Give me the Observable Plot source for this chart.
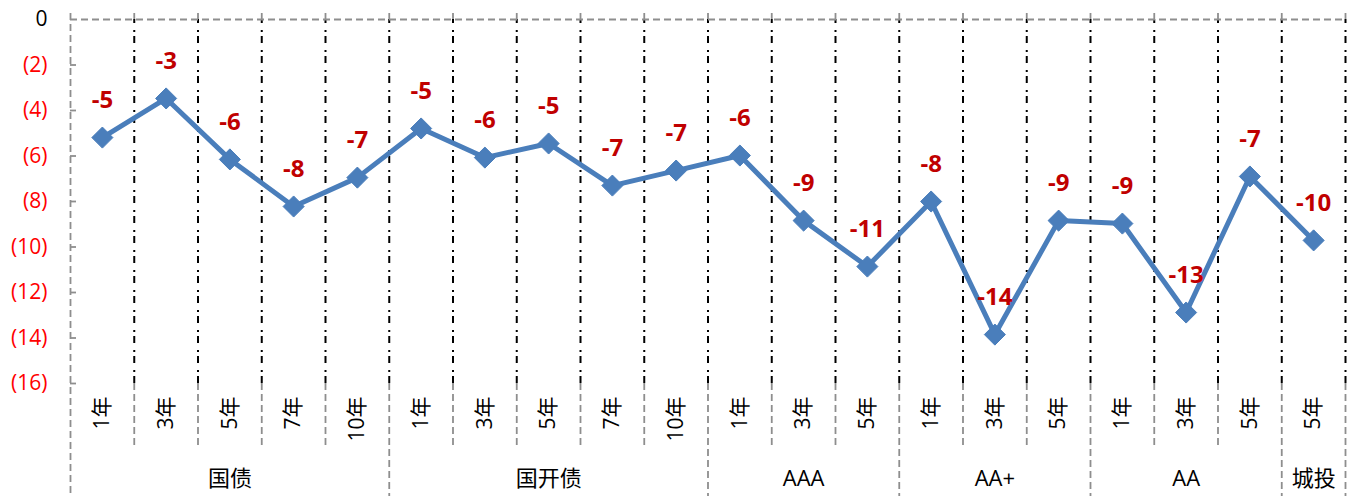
<!DOCTYPE html>
<html>
<head>
<meta charset="utf-8">
<script src="https://cdn.jsdelivr.net/npm/d3@7"></script>
<script src="https://cdn.jsdelivr.net/npm/@observablehq/plot@0.6"></script>
<style>
  html, body { margin: 0; padding: 0; background: #fff; }
</style>
</head>
<body>
<div id="chart"></div>
<script>
// ---- data ----
const groups = ["国债", "国开债", "AAA", "AA+", "AA", "城投"];
const groupTerms = [
  ["1年", "3年", "5年", "7年", "10年"],
  ["1年", "3年", "5年", "7年", "10年"],
  ["1年", "3年", "5年"],
  ["1年", "3年", "5年"],
  ["1年", "3年", "5年"],
  ["5年"]
];
const values = [-5.19, -3.47, -6.15, -8.22, -6.95,
                -4.79, -6.07, -5.45, -7.30, -6.64,
                -5.98, -8.84, -10.86,
                -8.00, -13.85, -8.84,
                -8.97, -12.88, -6.90,
                -9.71];
const yTicks = [0, -2, -4, -6, -8, -10, -12, -14, -16];

// ---- build table ----
const rows = [];
const groupSpans = [];
let idx = 0;
groups.forEach((g, gi) => {
  const start = idx;
  groupTerms[gi].forEach(t => {
    rows.push({ group: g, term: t, i: idx, x: idx + 0.5, value: values[idx] });
    idx++;
  });
  groupSpans.push({ group: g, start, end: idx, mid: (start + idx) / 2 });
});
const n = rows.length;
const groupBounds = [0, ...groupSpans.map(s => s.end)];
const allBounds = d3.range(0, n + 1);
const innerBounds = allBounds.filter(b => !groupBounds.includes(b));

// ---- layout ----
const W = 1358, H = 496;
const mTop = 19, mBottom = 113, mLeft = 70, mRight = 13;
const plotH = H - mTop - mBottom;
const yMin = -16, yMax = 0;
const py = px => yMax - (px - mTop) * (yMax - yMin) / plotH; // pixel -> y value
const colW = (W - mLeft - mRight) / n;

const gray = "#8e8e8e";
const font = "'Open Sans', 'Noto Sans CJK SC', sans-serif";

const chart = Plot.plot({
  width: W,
  height: H,
  marginTop: mTop,
  marginBottom: mBottom,
  marginLeft: mLeft,
  marginRight: mRight,
  x: { domain: [0, n], axis: null },
  y: { domain: [yMin, yMax], axis: null },
  style: { fontFamily: font, background: "#fff" },
  marks: [
    // black dash-dot gridlines in plot area
    Plot.ruleX(allBounds.filter(b => b > 0), {
      x: d => d, y1: yMin, y2: yMax,
      stroke: "#000", strokeWidth: 2, strokeDasharray: "7,4,2,7"
    }),
    // gray dashed below plot for inner boundaries
    Plot.ruleX(innerBounds, {
      x: d => d, y1: yMin, y2: py(445),
      stroke: gray, strokeWidth: 1.8, strokeDasharray: "7,4"
    }),
    // gray dashed group boundaries below plot
    Plot.ruleX(groupBounds.filter(b => b > 0), {
      x: d => d, y1: yMin, y2: py(H),
      stroke: gray, strokeWidth: 1.8, strokeDasharray: "7,4"
    }),
    // left axis line
    Plot.ruleX([0], {
      x: d => d, y1: py(13), y2: py(H),
      stroke: gray, strokeWidth: 1.8, strokeDasharray: "7,4"
    }),
    // small top ticks
    Plot.ruleX(allBounds.filter(b => b > 0), {
      x: d => d, y1: py(13), y2: yMax,
      stroke: gray, strokeWidth: 1.8
    }),
    // top horizontal dashed line
    Plot.ruleY([0], {
      y: d => d, x1: 0, x2: n,
      stroke: gray, strokeWidth: 1.8, strokeDasharray: "7,4"
    }),
    // y ticks
    Plot.ruleY(yTicks.filter(v => v !== 0), {
      y: d => d, x1: 0, x2: 6 / colW,
      stroke: gray, strokeWidth: 1.8
    }),
    // y tick labels
    Plot.text(yTicks, {
      x: 0, y: d => d,
      text: d => d === 0 ? "0" : `(${-d})`,
      fill: d => d === 0 ? "#000" : "#ff0000",
      textAnchor: "end", dx: -23, fontSize: 21
    }),
    // line
    Plot.line(rows, { x: "x", y: "value", stroke: "#4a7ebb", strokeWidth: 5 }),
    Plot.dot(rows, { x: "x", y: "value", symbol: "diamond2", r: 9.5, fill: "#4a7ebb", stroke: "#4a7ebb", strokeWidth: 1 }),
    // data labels
    Plot.text(rows, {
      x: "x", y: "value",
      text: d => String(Math.round(d.value)),
      dy: -37, fill: "#c00000", fontWeight: "bold", fontSize: 24
    }),
    // category labels
    Plot.text(rows, {
      x: "x", y: py(396), text: "term",
      rotate: -90, textAnchor: "end", lineAnchor: "middle",
      fill: "#000", fontSize: 21
    }),
    // group labels
    Plot.text(groupSpans, {
      x: "mid", y: py(478), text: "group",
      fill: "#000", fontSize: 22
    })
  ]
});
document.getElementById("chart").appendChild(chart);
</script>
</body>
</html>
